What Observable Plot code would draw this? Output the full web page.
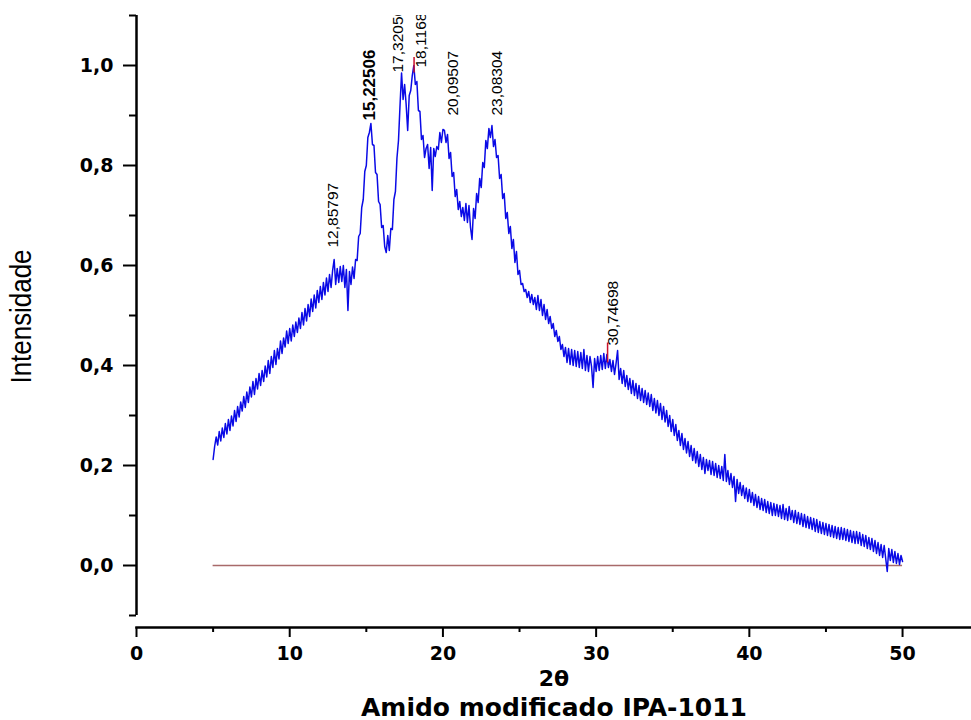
<!DOCTYPE html>
<html><head><meta charset="utf-8">
<script src="https://cdn.jsdelivr.net/npm/d3@7"></script>
<script src="https://cdn.jsdelivr.net/npm/@observablehq/plot@0.6"></script>
<style>html,body{margin:0;padding:0;background:#fff} svg{display:block}</style>
</head><body><div id="chart"></div>
<script>
// Scan: 2θ from 5° to 50° in 0.1° steps
const angleStart = 5;
const angleStep = 0.1;
const intensity = [
 0.212,0.238,0.257,0.241,0.268,0.249,0.275,0.256,0.284,0.263,
 0.292,0.27,0.299,0.279,0.31,0.288,0.318,0.297,0.327,0.309,
 0.338,0.316,0.347,0.326,0.357,0.337,0.368,0.342,0.374,0.353,
 0.384,0.36,0.39,0.368,0.399,0.377,0.41,0.384,0.418,0.396,
 0.43,0.402,0.434,0.413,0.449,0.424,0.455,0.437,0.469,0.444,
 0.474,0.449,0.481,0.458,0.487,0.466,0.495,0.474,0.506,0.481,
 0.514,0.489,0.522,0.498,0.533,0.508,0.541,0.515,0.55,0.526,
 0.558,0.532,0.566,0.541,0.575,0.548,0.582,0.556,0.59,0.612,
 0.562,0.594,0.566,0.598,0.568,0.6,0.556,0.592,0.51,0.588,
 0.562,0.597,0.574,0.612,0.61,0.658,0.664,0.716,0.732,0.788,
 0.8,0.856,0.866,0.884,0.842,0.84,0.786,0.782,0.728,0.722,
 0.676,0.68,0.638,0.626,0.66,0.63,0.674,0.672,0.732,0.748,
 0.815,0.85,0.92,0.985,0.932,0.962,0.922,0.87,0.94,0.95,
 0.98,1.0,0.962,0.968,0.91,0.908,0.852,0.86,0.816,0.834,
 0.842,0.794,0.836,0.75,0.834,0.818,0.838,0.832,0.866,0.846,
 0.872,0.87,0.846,0.862,0.814,0.826,0.778,0.786,0.738,0.752,
 0.712,0.728,0.698,0.716,0.69,0.724,0.686,0.72,0.676,0.652,
 0.714,0.694,0.744,0.726,0.774,0.756,0.806,0.796,0.85,0.834,
 0.874,0.856,0.88,0.838,0.852,0.816,0.82,0.774,0.782,0.734,
 0.744,0.694,0.706,0.664,0.678,0.634,0.652,0.606,0.628,0.582,
 0.59,0.562,0.564,0.548,0.552,0.536,0.548,0.526,0.542,0.522,
 0.536,0.512,0.54,0.51,0.532,0.5,0.522,0.492,0.512,0.484,
 0.498,0.474,0.484,0.458,0.47,0.448,0.458,0.432,0.442,0.418,
 0.436,0.406,0.434,0.402,0.432,0.4,0.43,0.398,0.428,0.396,
 0.426,0.394,0.432,0.39,0.42,0.388,0.418,0.398,0.356,0.414,
 0.388,0.418,0.39,0.42,0.392,0.424,0.394,0.422,0.396,0.412,
 0.388,0.41,0.382,0.404,0.43,0.372,0.394,0.364,0.39,0.358,
 0.38,0.352,0.374,0.344,0.37,0.34,0.364,0.334,0.36,0.33,
 0.354,0.326,0.35,0.322,0.345,0.318,0.342,0.31,0.334,0.305,
 0.33,0.3,0.324,0.292,0.318,0.287,0.31,0.278,0.3,0.268,
 0.292,0.26,0.282,0.25,0.27,0.24,0.264,0.232,0.254,0.225,
 0.248,0.218,0.24,0.21,0.234,0.205,0.228,0.198,0.222,0.192,
 0.216,0.184,0.212,0.19,0.21,0.182,0.208,0.18,0.204,0.176,
 0.2,0.174,0.198,0.17,0.222,0.168,0.19,0.162,0.184,0.156,
 0.178,0.128,0.172,0.144,0.166,0.14,0.16,0.134,0.155,0.128,
 0.152,0.126,0.146,0.12,0.142,0.116,0.138,0.112,0.134,0.11,
 0.132,0.106,0.128,0.104,0.126,0.1,0.124,0.1,0.122,0.098,
 0.12,0.094,0.122,0.092,0.114,0.09,0.118,0.092,0.11,0.086,
 0.11,0.084,0.106,0.082,0.104,0.078,0.102,0.076,0.098,0.074,
 0.096,0.072,0.094,0.068,0.092,0.066,0.088,0.064,0.086,0.062,
 0.084,0.06,0.082,0.058,0.08,0.056,0.078,0.054,0.076,0.052,
 0.076,0.052,0.074,0.05,0.072,0.048,0.07,0.046,0.068,0.044,
 0.068,0.044,0.066,0.04,0.062,0.038,0.06,0.034,0.056,0.032,
 0.054,0.028,0.05,0.024,0.046,0.02,0.042,0.016,0.04,0.014,
 -0.012,0.034,0.01,0.032,0.006,0.028,0.004,0.024,0.002,0.02,
 0.008
];

// Peak annotations
const peakLabels = ["12,85797","15,22506","17,32056","18,11686","20,09507","23,08304","30,74698"];
const labelAngles = [12.86, 15.23, 17.1, 18.55, 20.66, 23.5, 31.1];
const labelBase = [0.636, 0.89, 0.986, 0.996, 0.90, 0.90, 0.44];

// Red peak markers
const markerAngles = [18.11686, 30.74698];
const markerLow = [0.985, 0.405];
const markerHigh = [1.016, 0.445];

// Baseline
const baselineFrom = 5, baselineTo = 50, baselineValue = 0;

// Axes
const xMajor = [0, 10, 20, 30, 40, 50];
const xMinor = [5, 15, 25, 35, 45];
const yMajor = [0, 0.2, 0.4, 0.6, 0.8, 1.0];
const yMajorLabels = ["0,0", "0,2", "0,4", "0,6", "0,8", "1,0"];
const yMinor = [-0.1, 0.1, 0.3, 0.5, 0.7, 0.9, 1.1];
const xTitle = "2θ";
const yTitle = "Intensidade";
const chartTitle = "Amido modificado IPA-1011";

const scan = intensity.map((v, i) => ({angle: +(angleStart + i * angleStep).toFixed(2), value: v}));
const labels = peakLabels.map((t, i) => ({text: t, angle: labelAngles[i], y: labelBase[i]}));
const markers = markerAngles.map((a, i) => ({angle: a, lo: markerLow[i], hi: markerHigh[i]}));

const plot = Plot.plot({
  width: 971, height: 720,
  marginLeft: 136, marginRight: 0, marginTop: 15, marginBottom: 93,
  x: {domain: [0, 54.5]},
  y: {domain: [-0.1, 1.1], range: [615, 15]},
  style: {fontFamily: "DejaVu Sans", background: "white", color: "black"},
  marks: [
    Plot.frame({anchor: "bottom", stroke: "black", strokeWidth: 2.5}),
    Plot.ruleX([0], {y1: -0.1, y2: 1.1, stroke: "black", strokeWidth: 2.5}),
    Plot.axisY({ticks: yMinor, tickSize: 7, tickFormat: () => "", label: null, strokeWidth: 2}),
    Plot.axisY({ticks: yMajor, tickSize: 13, tickPadding: 10, tickFormat: d => yMajorLabels[yMajor.indexOf(d)], label: null, fontSize: 19, fontWeight: "bold", strokeWidth: 2}),
    Plot.axisX({ticks: xMinor, tickSize: 5, tickFormat: () => "", label: null, strokeWidth: 2}),
    Plot.axisX({ticks: xMajor, tickSize: 10, tickPadding: 9, label: null, fontSize: 19, fontWeight: "bold", strokeWidth: 2}),
    Plot.ruleY([baselineValue], {x1: baselineFrom, x2: baselineTo, stroke: "#a86a6a", strokeWidth: 1.5}),
    Plot.line(scan, {x: "angle", y: "value", stroke: "#0a0ae6", strokeWidth: 1.5, clip: true}),
    Plot.ruleX(markers, {x: "angle", y1: "lo", y2: "hi", stroke: "#c8102e", strokeWidth: 1.5}),
    Plot.text(labels.filter(d => d.text !== "15,22506"), {x: "angle", y: "y", text: "text", rotate: -90, textAnchor: "start", lineAnchor: "middle", fontFamily: "Liberation Sans", fontSize: 15.5, fill: "black", clip: true}),
    Plot.text(labels.filter(d => d.text === "15,22506"), {x: "angle", y: "y", text: "text", rotate: -90, textAnchor: "start", lineAnchor: "middle", fontFamily: "Liberation Sans", fontSize: 17, fontWeight: "bold", fill: "black", clip: true}),
    Plot.text([yTitle], {frameAnchor: "left", dx: -115, dy: -5, rotate: -90, textAnchor: "middle", fontFamily: "Liberation Sans", fontSize: 30, fill: "black"}),
    Plot.text([xTitle], {frameAnchor: "bottom", dy: 51, textAnchor: "middle", lineAnchor: "middle", fontFamily: "DejaVu Sans", fontWeight: "bold", fontSize: 22, fill: "black"}),
    Plot.text([chartTitle], {frameAnchor: "bottom", dy: 88, textAnchor: "middle", lineAnchor: "bottom", fontFamily: "DejaVu Sans", fontWeight: "bold", fontSize: 24, fill: "black"})
  ]
});

const svg = d3.select(plot);
svg.selectAll("text").filter(function(){ return this.textContent === yTitle; })
  .attr("textLength", 134).attr("lengthAdjust", "spacingAndGlyphs");
svg.selectAll("text").filter(function(){ return this.textContent === chartTitle; })
  .attr("textLength", 386).attr("lengthAdjust", "spacingAndGlyphs");
document.getElementById("chart").appendChild(plot);
</script>
</body></html>
